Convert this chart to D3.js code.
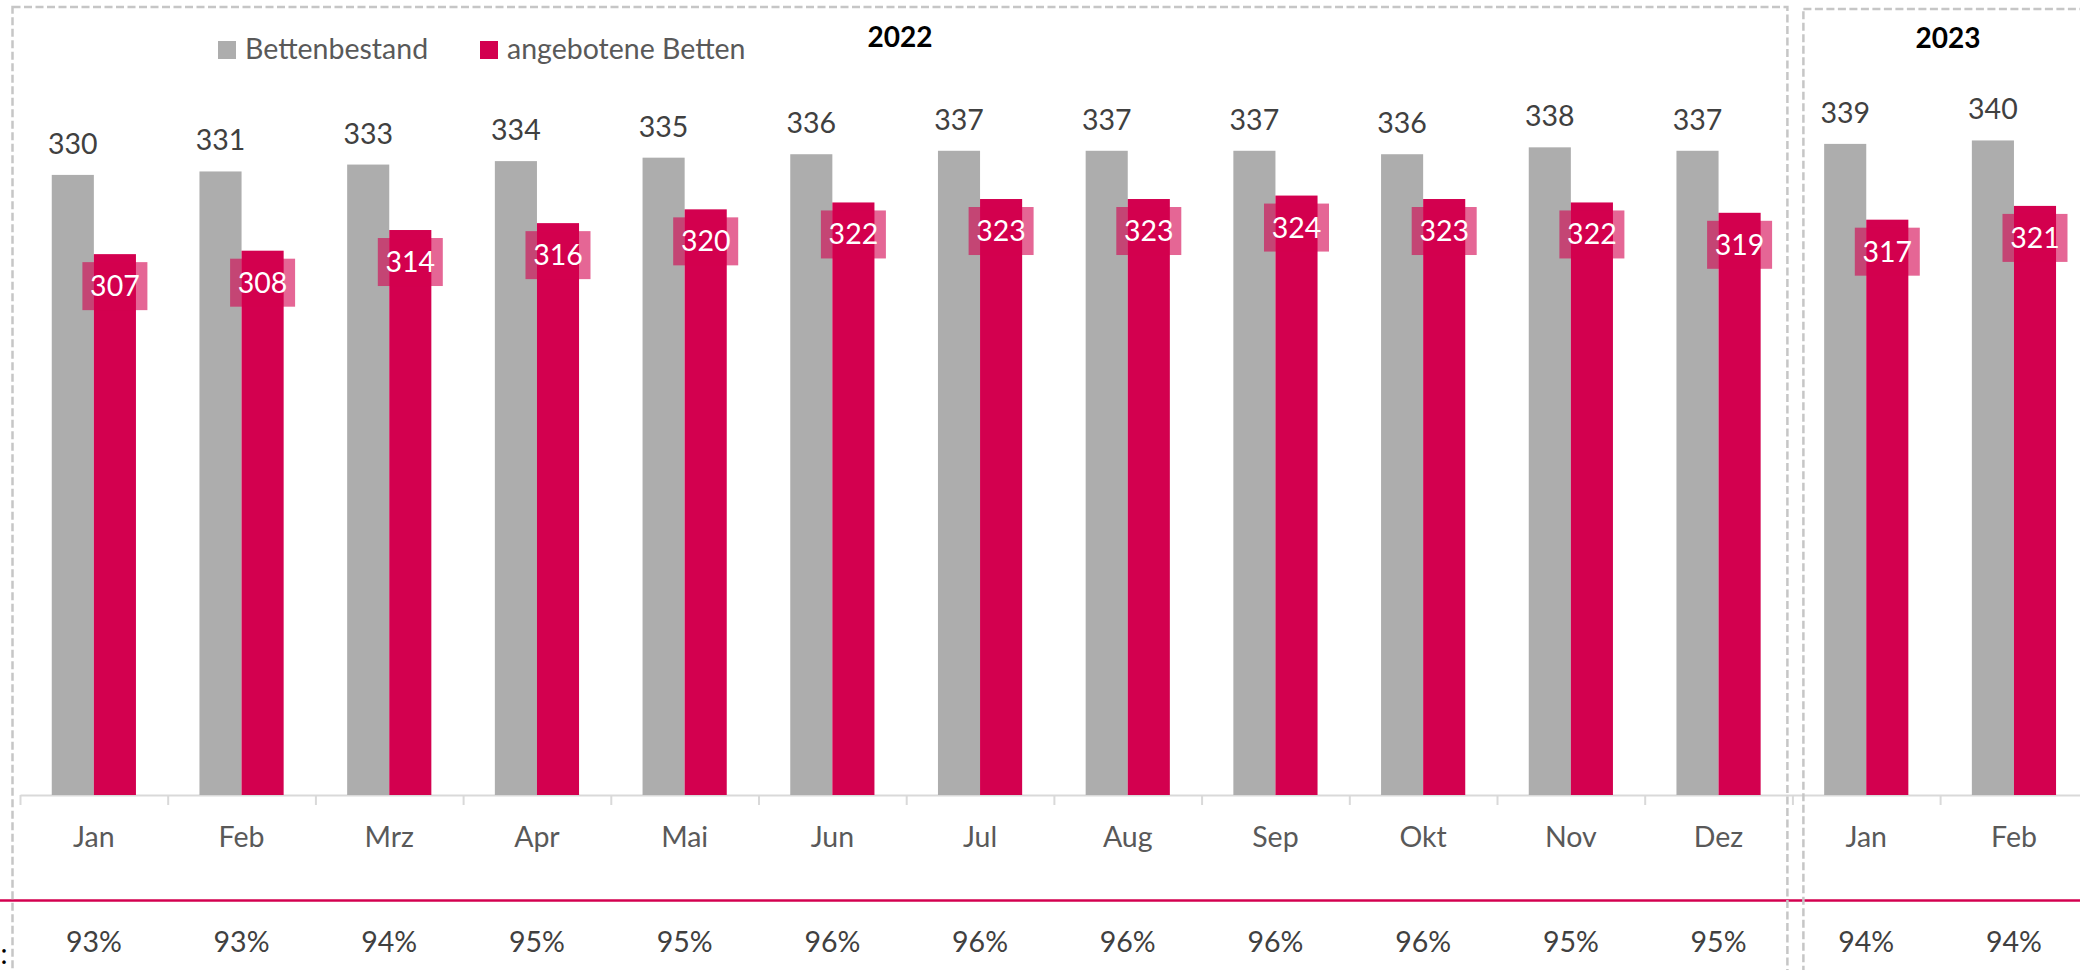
<!DOCTYPE html>
<html>
  <head>
    <meta charset="utf-8">
    <title>Bettenbestand und angebotene Betten</title>
    <script src="https://d3js.org/d3.v7.min.js"></script>
    <style>
      body { margin: 0; background: #fff; }
      svg { display: block; font-family: Lato, "Open Sans", sans-serif; }
      .axis path, .axis line { stroke: #d9d9d9; stroke-width: 2; }
      .box { fill: none; stroke: #c6c6c6; stroke-width: 2.5; stroke-dasharray: 8 3.5; }
    </style>
  </head>
  <body>
    <svg id="svg" width="2080" height="970"></svg>
    <script>
      // data
      var months = ["Jan", "Feb", "Mrz", "Apr", "Mai", "Jun", "Jul", "Aug", "Sep", "Okt", "Nov", "Dez", "Jan", "Feb"];
      var bestand = [330, 331, 333, 334, 335, 336, 337, 337, 337, 336, 338, 337, 339, 340];
      var angeboten = [307, 308, 314, 316, 320, 322, 323, 323, 324, 323, 322, 319, 317, 321];
      var auslastung = [93, 93, 94, 95, 95, 96, 96, 96, 96, 96, 95, 95, 94, 94];
      var years = [{ label: "2022", from: 0, to: 12 }, { label: "2023", from: 12, to: 15 }];
      var seriesNames = ["Bettenbestand", "angebotene Betten"];

      var grey = "#adadad", red = "#d3004f";
      var svg = d3.select("#svg");
      var idx = d3.range(months.length);

      // scales
      var x = d3.scaleBand().domain(idx).range([20, 20 + 147.7 * months.length]).padding(0);
      var edges = d3.scaleLinear().domain([0, months.length]).range(x.range());
      var y = d3.scaleLinear().domain([150, 350]).range([795, 106]);
      var barW = x.bandwidth() * 0.285;

      // axis
      svg.append("g").attr("class", "axis")
        .attr("transform", "translate(0,795)")
        .call(d3.axisBottom(edges).ticks(months.length).tickSize(10).tickSizeOuter(0).tickFormat(""));

      // bars
      svg.selectAll(".grey").data(idx).enter().append("rect")
        .attr("x", function(i) { return x(i) + x.bandwidth() / 2 - barW; })
        .attr("y", function(i) { return y(bestand[i]); })
        .attr("width", barW)
        .attr("height", function(i) { return y(150) - y(bestand[i]); })
        .style("fill", grey);
      svg.selectAll(".red").data(idx).enter().append("rect")
        .attr("x", function(i) { return x(i) + x.bandwidth() / 2; })
        .attr("y", function(i) { return y(angeboten[i]); })
        .attr("width", barW)
        .attr("height", function(i) { return y(150) - y(angeboten[i]); })
        .style("fill", red);

      // grey labels
      svg.selectAll(".lblGrey").data(idx).enter().append("text")
        .attr("x", function(i) { return x(i) + x.bandwidth() / 2 - barW / 2; })
        .attr("y", function(i) { return y(bestand[i]) - 21; })
        .attr("text-anchor", "middle")
        .style("font-size", "28.5px").style("fill", "#404040")
        .text(function(i) { return bestand[i]; });

      // red labels with translucent box
      var lbl = svg.selectAll(".lblRed").data(idx).enter().append("g")
        .attr("transform", function(i) {
          return "translate(" + (x(i) + x.bandwidth() / 2 + barW / 2) + "," + (y(angeboten[i]) + 32) + ")";
        });
      lbl.append("rect")
        .attr("x", -32.5).attr("y", -24).attr("width", 65).attr("height", 48)
        .style("fill", red).style("fill-opacity", 0.6);
      lbl.append("text")
        .attr("y", 10).attr("text-anchor", "middle")
        .style("font-size", "28.5px").style("fill", "#fff")
        .text(function(i) { return angeboten[i]; });

      // month labels
      svg.selectAll(".month").data(idx).enter().append("text")
        .attr("x", function(i) { return x(i) + x.bandwidth() / 2; })
        .attr("y", 847)
        .attr("text-anchor", "middle")
        .style("font-size", "28.5px").style("fill", "#595959")
        .text(function(i) { return months[i]; });

      // separator line + percent row
      svg.append("line")
        .attr("x1", 0).attr("x2", 2080).attr("y1", 900.5).attr("y2", 900.5)
        .style("stroke", red).style("stroke-width", 2.5);
      svg.selectAll(".pct").data(idx).enter().append("text")
        .attr("x", function(i) { return x(i) + x.bandwidth() / 2; })
        .attr("y", 952)
        .attr("text-anchor", "middle")
        .style("font-size", "28.5px").style("fill", "#404040")
        .text(function(i) { return auslastung[i] + "%"; });
      svg.append("text").text(":")
        .attr("x", 4).attr("y", 964).attr("text-anchor", "middle")
        .style("font-size", "28px").style("fill", "#000");

      // year boxes (drawn on top, like the original)
      years.forEach(function(yr) {
        var x0 = yr.from === 0 ? 12.5 : edges(yr.from) + 11;
        var x1 = edges(Math.min(yr.to, 12)) - 5;
        if (yr.to > 12) x1 = 2200;
        svg.append("rect").attr("class", "box")
          .attr("x", x0).attr("y", yr.from === 0 ? 7 : 9)
          .attr("width", x1 - x0).attr("height", 1000);
        var cx = yr.from === 0 ? (x0 + x1) / 2 : x.bandwidth() + edges(yr.from) + 8;
        svg.append("text").text(yr.label)
          .attr("x", cx).attr("y", yr.from === 0 ? 47 : 48)
          .attr("text-anchor", "middle")
          .style("font-weight", "bold").style("font-size", "28px").style("fill", "#000");
      });

      // legend
      var legend = svg.append("g").attr("transform", "translate(218,41)");
      var lx = [0, 262];
      seriesNames.forEach(function(name, k) {
        legend.append("rect").attr("x", lx[k]).attr("y", 0).attr("width", 18).attr("height", 18)
          .style("fill", k === 0 ? grey : red);
        legend.append("text").attr("x", lx[k] + 27).attr("y", 18)
          .style("font-size", "28.5px").style("fill", "#595959")
          .text(name);
      });
    </script>
  </body>
</html>
